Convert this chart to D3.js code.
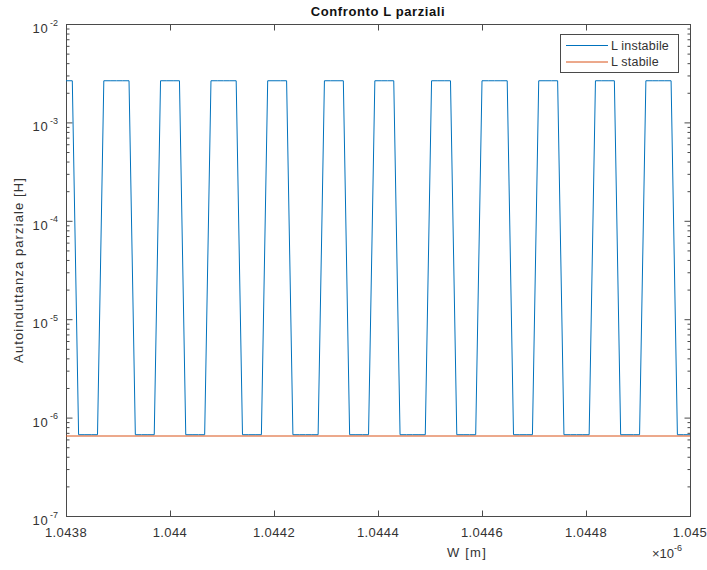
<!DOCTYPE html>
<html>
<head>
<meta charset="utf-8">
<script src="https://cdn.jsdelivr.net/npm/d3@7"></script>
<style>
  html, body { margin: 0; padding: 0; background: #fff; }
  svg { display: block; font-family: "Liberation Sans", Arial, Helvetica, sans-serif; }
</style>
</head>
<body>
<svg id="chart" width="707" height="570"></svg>
<script>
// Sweep of the width W [m]: first and last sample of an evenly spaced grid
const wStart = 1.0438e-6;
const wEnd = 1.045e-6;

// Partial self-inductance, unstable computation (one value per W sample)
const lInstabile = [
  2.65e-3, 2.65e-3, 6.7e-7, 6.7e-7, 6.7e-7, 6.7e-7, 2.65e-3, 2.65e-3, 2.65e-3, 2.65e-3,
  2.65e-3, 6.7e-7, 6.7e-7, 6.7e-7, 6.7e-7, 2.65e-3, 2.65e-3, 2.65e-3, 2.65e-3, 6.7e-7,
  6.7e-7, 6.7e-7, 6.7e-7, 2.65e-3, 2.65e-3, 2.65e-3, 2.65e-3, 2.65e-3, 6.7e-7, 6.7e-7,
  6.7e-7, 6.7e-7, 2.65e-3, 2.65e-3, 2.65e-3, 2.65e-3, 6.7e-7, 6.7e-7, 6.7e-7, 6.7e-7,
  6.7e-7, 2.65e-3, 2.65e-3, 2.65e-3, 2.65e-3, 6.7e-7, 6.7e-7, 6.7e-7, 6.7e-7, 2.65e-3,
  2.65e-3, 2.65e-3, 2.65e-3, 6.7e-7, 6.7e-7, 6.7e-7, 6.7e-7, 6.7e-7, 2.65e-3, 2.65e-3,
  2.65e-3, 2.65e-3, 6.7e-7, 6.7e-7, 6.7e-7, 6.7e-7, 2.65e-3, 2.65e-3, 2.65e-3, 2.65e-3,
  2.65e-3, 6.7e-7, 6.7e-7, 6.7e-7, 6.7e-7, 2.65e-3, 2.65e-3, 2.65e-3, 2.65e-3, 6.7e-7,
  6.7e-7, 6.7e-7, 6.7e-7, 6.7e-7, 2.65e-3, 2.65e-3, 2.65e-3, 2.65e-3, 6.7e-7, 6.7e-7,
  6.7e-7, 6.7e-7, 2.65e-3, 2.65e-3, 2.65e-3, 2.65e-3, 2.65e-3, 6.7e-7, 6.7e-7, 6.7e-7
];

// Partial self-inductance, stable computation (constant over the sweep)
const lStabile = 6.5e-7;

// Axis ticks
const xTicks = [1.0438e-6, 1.044e-6, 1.0442e-6, 1.0444e-6, 1.0446e-6, 1.0448e-6, 1.045e-6];
const xTickLabels = ["1.0438", "1.044", "1.0442", "1.0444", "1.0446", "1.0448", "1.045"];
const yTicks = [1e-7, 1e-6, 1e-5, 1e-4, 1e-3, 1e-2];
const yTickExponents = ["-7", "-6", "-5", "-4", "-3", "-2"];

const seriesNames = ["L instabile", "L stabile"];
const seriesColors = ["#0072BD", "#D95319"];

// W grid matching the samples of the unstable series
const wGrid = lInstabile.map((_, i) => wStart + (wEnd - wStart) * i / (lInstabile.length - 1));

const svg = d3.select("#chart");
const plot = { left: 66, right: 690, top: 24, bottom: 516 };
const axisColor = "#4a4a4a";
const textColor = "#333";

const x = d3.scaleLinear().domain([wStart, wEnd]).range([plot.left, plot.right]);
const y = d3.scaleLog().domain([1e-7, 1e-2]).range([plot.bottom, plot.top]);

// Minor ticks of the log axis: 2..9 times each decade
const yMinor = [];
for (let e = -7; e < -2; e++) for (let m = 2; m <= 9; m++) yMinor.push(m * Math.pow(10, e));

// Plot box
svg.append("rect")
  .attr("x", plot.left + 0.5).attr("y", plot.top + 0.5)
  .attr("width", plot.right - plot.left).attr("height", plot.bottom - plot.top)
  .attr("fill", "#fff").attr("stroke", axisColor).attr("stroke-width", 1);

// Inward ticks drawn with d3 axes on all four sides
function styleAxis(g) {
  g.select(".domain").remove();
  g.selectAll(".tick line").attr("stroke", axisColor);
  g.selectAll(".tick text").remove();
}
svg.append("g").attr("transform", `translate(0,${plot.bottom + 0.5})`)
  .call(d3.axisTop(x).tickValues(xTicks).tickSize(6)).call(styleAxis);
svg.append("g").attr("transform", `translate(0,${plot.top + 0.5})`)
  .call(d3.axisBottom(x).tickValues(xTicks).tickSize(6)).call(styleAxis);
svg.append("g").attr("transform", `translate(${plot.left + 0.5},0)`)
  .call(d3.axisRight(y).tickValues(yTicks).tickSize(6)).call(styleAxis);
svg.append("g").attr("transform", `translate(${plot.left + 0.5},0)`)
  .call(d3.axisRight(y).tickValues(yMinor).tickSize(3)).call(styleAxis);
svg.append("g").attr("transform", `translate(${plot.right + 0.5},0)`)
  .call(d3.axisLeft(y).tickValues(yTicks).tickSize(6)).call(styleAxis);
svg.append("g").attr("transform", `translate(${plot.right + 0.5},0)`)
  .call(d3.axisLeft(y).tickValues(yMinor).tickSize(3)).call(styleAxis);

// X tick labels
svg.append("g").selectAll("text").data(xTicks).join("text")
  .attr("x", d => x(d)).attr("y", 536.5)
  .attr("text-anchor", "middle")
  .attr("font-size", 13).attr("letter-spacing", 0.4)
  .attr("fill", textColor)
  .text((d, i) => xTickLabels[i]);

// Y tick labels as 10 with a raised exponent
const yLab = svg.append("g").selectAll("g").data(yTicks).join("g")
  .attr("transform", d => `translate(0,${y(d)})`);
yLab.append("text")
  .attr("x", 48.5).attr("y", 9)
  .attr("text-anchor", "end")
  .attr("font-size", 13).attr("letter-spacing", 0.8)
  .attr("fill", textColor).text("10");
yLab.append("text")
  .attr("x", 50).attr("y", 1.5)
  .attr("font-size", 9)
  .attr("fill", textColor)
  .text((d, i) => yTickExponents[i]);

// Data lines
const line = d3.line().x(d => x(d[0])).y(d => y(d[1]));
svg.append("path")
  .datum(wGrid.map((w, i) => [w, lInstabile[i]]))
  .attr("d", line)
  .attr("fill", "none").attr("stroke", seriesColors[0]).attr("stroke-width", 1);
svg.append("path")
  .datum([[wStart, lStabile], [wEnd, lStabile]])
  .attr("d", line)
  .attr("fill", "none").attr("stroke", seriesColors[1]).attr("stroke-width", 1);

// Title and axis labels
svg.append("text")
  .attr("x", 378).attr("y", 16)
  .attr("text-anchor", "middle")
  .attr("font-size", 13).attr("font-weight", "bold").attr("letter-spacing", 0.6)
  .attr("fill", "#111").text("Confronto L parziali");

svg.append("text")
  .attr("x", 467).attr("y", 557)
  .attr("text-anchor", "middle")
  .attr("font-size", 13).attr("letter-spacing", 1.2)
  .attr("fill", textColor).text("W [m]");

const mult = svg.append("text").attr("x", 652).attr("y", 558)
  .attr("font-size", 13).attr("fill", textColor);
mult.append("tspan").text("\u00d710");
mult.append("tspan").attr("dy", -7).attr("font-size", 9).text("-6");

svg.append("text")
  .attr("transform", `translate(23,${(plot.top + plot.bottom) / 2}) rotate(-90)`)
  .attr("text-anchor", "middle")
  .attr("font-size", 13).attr("letter-spacing", 1.1)
  .attr("fill", textColor).text("Autoinduttanza parziale [H]");

// Legend
const legend = svg.append("g");
legend.append("rect")
  .attr("x", 560.5).attr("y", 34.5).attr("width", 118).attr("height", 38)
  .attr("fill", "#fff").attr("stroke", axisColor).attr("stroke-width", 1);
const entries = legend.selectAll("g").data(seriesNames).join("g")
  .attr("transform", (d, i) => `translate(0,${45.5 + i * 16.5})`);
entries.append("line")
  .attr("x1", 566).attr("x2", 608).attr("y1", 0).attr("y2", 0)
  .attr("stroke", (d, i) => seriesColors[i]).attr("stroke-width", 1);
entries.append("text")
  .attr("x", 611).attr("y", 4)
  .attr("font-size", 12.5).attr("letter-spacing", 0.2)
  .attr("fill", textColor).text(d => d);
</script>
</body>
</html>
